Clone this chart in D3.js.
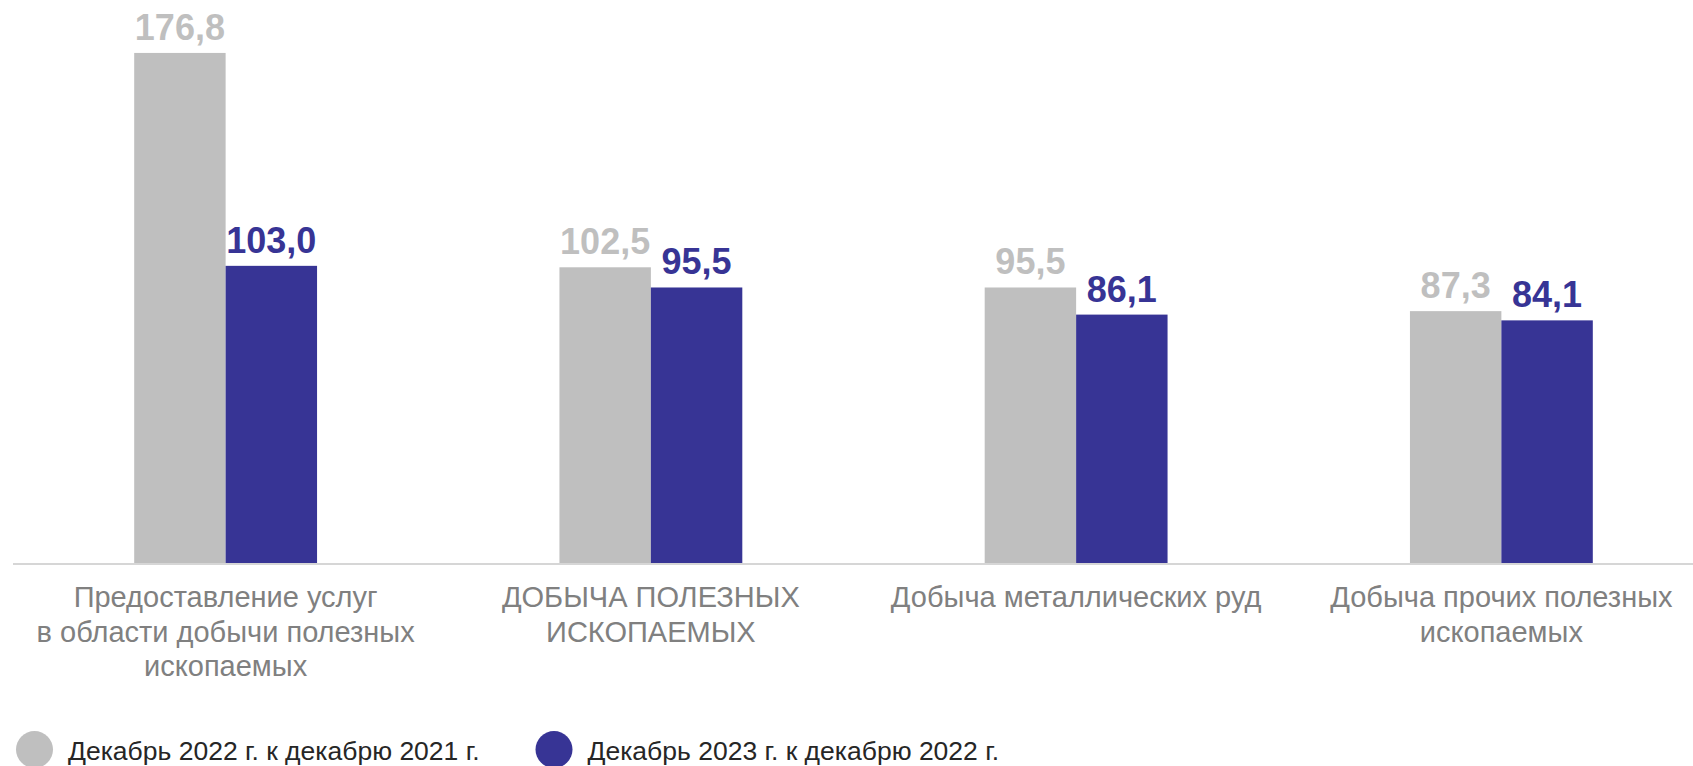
<!DOCTYPE html>
<html>
<head>
    <meta charset="utf-8">
    <title>Индексы производства</title>
    <script src="https://d3js.org/d3.v7.min.js"></script>
    <style>
        body { margin: 0; background: #fff; }
        text { font-family: "Liberation Sans", Arial, sans-serif; }
    </style>
</head>
<body>
    <div id="chart"></div>
    <script>

        // data
        var categories = [
            ["Предоставление услуг", "в области добычи полезных", "ископаемых"],
            ["ДОБЫЧА ПОЛЕЗНЫХ", "ИСКОПАЕМЫХ"],
            ["Добыча металлических руд"],
            ["Добыча прочих полезных", "ископаемых"]
        ];
        var seriesNames = ["Декабрь 2022 г. к декабрю 2021 г.", "Декабрь 2023 г. к декабрю 2022 г."];
        var values2022 = [176.8, 102.5, 95.5, 87.3];
        var values2023 = [103.0, 95.5, 86.1, 84.1];
        var colors = ["#bfbfbf", "#373495"];

        var width = 1693, height = 766;
        var baseY = 563;

        var svg = d3.select("#chart")
                    .append("svg")
                    .attr("width", width)
                    .attr("height", height);

        var series = [values2022, values2023];

        var x0 = d3.scaleBand()
            .domain(d3.range(categories.length))
            .range([13, 1714])
            .paddingInner(0.57)
            .paddingOuter(0.285);

        var x1 = d3.scaleBand()
            .domain([0, 1])
            .range([0, x0.bandwidth()]);

        var y = d3.scaleLinear()
            .domain([0, 200])
            .range([baseY, -14]);

        var fmt = function(v) { return d3.format(".1f")(v).replace(".", ","); };

        var groups = svg.selectAll("g.group")
            .data(categories)
            .enter().append("g")
            .attr("class", "group")
            .attr("transform", function(d, i) { return "translate(" + x0(i) + ",0)"; });

        groups.each(function(d, i) {
            var g = d3.select(this);
            series.forEach(function(s, k) {
                g.append("rect")
                    .attr("x", x1(k))
                    .attr("y", y(s[i]))
                    .attr("width", x1.bandwidth())
                    .attr("height", y(0) - y(s[i]))
                    .attr("fill", colors[k]);

                g.append("text")
                    .attr("x", x1(k) + x1.bandwidth() / 2)
                    .attr("y", y(s[i]) - 13)
                    .attr("text-anchor", "middle")
                    .style("font-size", "36px")
                    .style("font-weight", "bold")
                    .attr("fill", colors[k])
                    .text(fmt(s[i]));
            });

            // category label, one tspan per line
            var label = g.append("text")
                .attr("x", x0.bandwidth() / 2)
                .attr("y", 607)
                .attr("text-anchor", "middle")
                .style("font-size", "29px")
                .attr("fill", "#808080");
            label.selectAll("tspan")
                .data(d)
                .enter().append("tspan")
                .attr("x", x0.bandwidth() / 2)
                .attr("dy", function(t, j) { return j === 0 ? 0 : 34.5; })
                .text(function(t) { return t; });
        });

        // baseline
        svg.append("line")
            .attr("x1", 13)
            .attr("x2", width)
            .attr("y1", y(0) + 1)
            .attr("y2", y(0) + 1)
            .attr("stroke", "#d6d6d6")
            .attr("stroke-width", 2);

        // legend
        var legendX = [34.5, 554];
        seriesNames.forEach(function(name, k) {
            svg.append("circle")
                .attr("cx", legendX[k])
                .attr("cy", 749.5)
                .attr("r", 18.5)
                .attr("fill", colors[k]);
            svg.append("text")
                .attr("x", legendX[k] + 33.5)
                .attr("y", 759.5)
                .style("font-size", "26.5px")
                .attr("fill", "#262626")
                .text(name);
        });

    </script>
</body>
</html>
